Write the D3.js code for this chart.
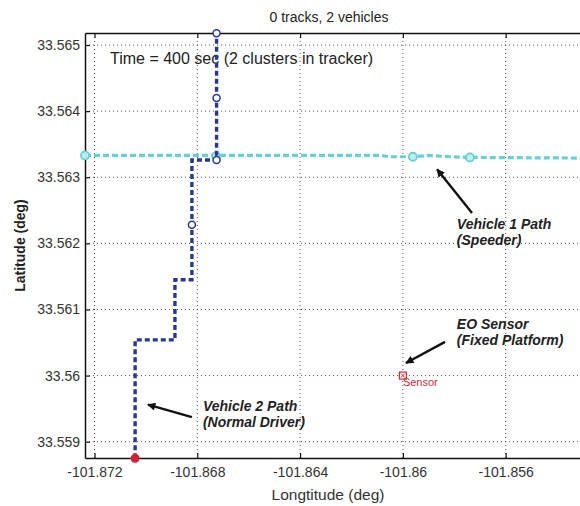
<!DOCTYPE html>
<html>
<head>
<meta charset="utf-8">
<script src="https://cdn.jsdelivr.net/npm/d3@7"></script>
<style>
  html, body { margin: 0; padding: 0; background: #fff; }
  svg { display: block; font-family: "Liberation Sans", Arial, sans-serif; }
</style>
</head>
<body>
<svg id="chart" width="580" height="506"></svg>
<script>
// Axis ticks and labels
const lonTicks = [-101.872, -101.868, -101.864, -101.86, -101.856];
const lonTickLabels = ["-101.872", "-101.868", "-101.864", "-101.86", "-101.856"];
const latTicks = [33.559, 33.56, 33.561, 33.562, 33.563, 33.564, 33.565];
const latTickLabels = ["33.559", "33.56", "33.561", "33.562", "33.563", "33.564", "33.565"];

// Vehicle 1 (speeder) track
const v1Lon = [-101.87237, -101.86089, -101.86050, -101.85961, -101.85902, -101.85817, -101.85739, -101.85303];
const v1Lat = [33.56333, 33.56333, 33.56331, 33.56331, 33.56333, 33.56331, 33.56330, 33.56329];
const v1MarkLon = [-101.87237, -101.86727, -101.85961, -101.85739];
const v1MarkLat = [33.56333, 33.56332, 33.56331, 33.56330];

// Vehicle 2 (normal driver) track
const v2Lon = [-101.87042, -101.87042, -101.86887, -101.86887, -101.86821, -101.86821, -101.86725, -101.86725];
const v2Lat = [33.55875, 33.56054, 33.56054, 33.56145, 33.56145, 33.56326, 33.56326, 33.56518];
const v2MarkLon = [-101.86821, -101.86725, -101.86725, -101.86725];
const v2MarkLat = [33.56228, 33.56326, 33.56420, 33.56518];

// Fixed EO sensor
const sensorLon = -101.86;
const sensorLat = 33.56;

// Callouts: text anchor, arrow tail and arrow tip (lon/lat)
const callouts = [
  { lines: ["Vehicle 1 Path", "(Speeder)"], tLon: -101.8579, tLat: 33.56222,
    fromLon: -101.85731, fromLat: 33.56246, toLon: -101.85867, toLat: 33.56312 },
  { lines: ["EO Sensor", "(Fixed Platform)"], tLon: -101.8579, tLat: 33.56071,
    fromLon: -101.85836, fromLat: 33.56051, toLon: -101.85988, toLat: 33.56019 },
  { lines: ["Vehicle 2 Path", "(Normal Driver)"], tLon: -101.86778, tLat: 33.55947,
    fromLon: -101.86821, fromLat: 33.55937, toLon: -101.86992, toLat: 33.55956 }
];

const svg = d3.select("#chart");
const L = 85, T = 33, R = 582, B = 458;

const x = d3.scaleLinear().domain([-101.87237, -101.85303]).range([L, R]);
const y = d3.scaleLinear().domain([33.558753, 33.565182]).range([B, T]);

// Title and in-plot status text
svg.append("text").attr("x", 329).attr("y", 22).attr("text-anchor", "middle")
  .attr("font-size", 14).attr("fill", "#222").text("0 tracks, 2 vehicles");

// Dotted grid
const grid = svg.append("g").attr("stroke", "#555").attr("stroke-width", 1)
  .attr("stroke-dasharray", "1,3");
grid.selectAll("line.gx").data(lonTicks).join("line").attr("class", "gx")
  .attr("x1", d => x(d)).attr("x2", d => x(d)).attr("y1", T).attr("y2", B);
grid.selectAll("line.gy").data(latTicks).join("line").attr("class", "gy")
  .attr("y1", d => y(d)).attr("y2", d => y(d)).attr("x1", L).attr("x2", R);

svg.append("text").attr("x", 110).attr("y", 64).attr("font-size", 16)
  .attr("fill", "#222").text("Time = 400 sec (2 clusters in tracker)");

// Axes with inward ticks
const fmtLon = d => lonTickLabels[lonTicks.indexOf(d)];
const fmtLat = d => latTickLabels[latTicks.indexOf(d)];

const gB = svg.append("g").attr("transform", `translate(0,${B})`)
  .call(d3.axisBottom(x).tickValues(lonTicks).tickFormat(fmtLon)
    .tickSizeInner(-5).tickSizeOuter(0).tickPadding(9));
const gT = svg.append("g").attr("transform", `translate(0,${T})`)
  .call(d3.axisTop(x).tickValues(lonTicks).tickFormat("")
    .tickSizeInner(-5).tickSizeOuter(0));
const gL = svg.append("g").attr("transform", `translate(${L},0)`)
  .call(d3.axisLeft(y).tickValues(latTicks).tickFormat(fmtLat)
    .tickSizeInner(-5).tickSizeOuter(0).tickPadding(5));
[gB, gT, gL].forEach(g => {
  g.select(".domain").attr("stroke", "#111").attr("stroke-width", 1.5);
  g.selectAll(".tick line").attr("stroke", "#111").attr("stroke-width", 1.2);
  g.selectAll(".tick text").attr("font-size", 14).attr("fill", "#333")
    .attr("font-family", "Liberation Sans, Arial, sans-serif");
});

svg.append("text").attr("x", 328).attr("y", 500).attr("text-anchor", "middle")
  .attr("font-size", 15.5).attr("fill", "#333").text("Longtitude (deg)");
svg.append("text").attr("transform", `translate(25,${(T + B) / 2}) rotate(-90)`)
  .attr("text-anchor", "middle").attr("font-size", 14).attr("font-weight", "bold")
  .attr("fill", "#222").text("Latitude (deg)");

// Vehicle tracks
const line = d3.line().x(d => x(d[0])).y(d => y(d[1]));

svg.append("path").datum(v1Lon.map((d, i) => [d, v1Lat[i]]))
  .attr("d", line).attr("fill", "none").attr("stroke", "#68cfd2")
  .attr("stroke-width", 3.2).attr("stroke-dasharray", "6,3");
svg.selectAll("circle.v1").data(v1MarkLon).join("circle").attr("class", "v1")
  .attr("cx", d => x(d)).attr("cy", (d, i) => y(v1MarkLat[i])).attr("r", 4)
  .attr("fill", "#bfeeee").attr("stroke", "#68cfd2").attr("stroke-width", 1.8);

svg.append("path").datum(v2Lon.map((d, i) => [d, v2Lat[i]]))
  .attr("d", line).attr("fill", "none").attr("stroke", "#2a3790")
  .attr("stroke-width", 3.4).attr("stroke-dasharray", "5,3");
svg.selectAll("circle.v2").data(v2MarkLon).join("circle").attr("class", "v2")
  .attr("cx", d => x(d)).attr("cy", (d, i) => y(v2MarkLat[i])).attr("r", 3.5)
  .attr("fill", "#fff").attr("stroke", "#2a3790").attr("stroke-width", 1.5);

// Current position of vehicle 2
svg.append("circle").attr("cx", x(v2Lon[0])).attr("cy", y(v2Lat[0])).attr("r", 4.5)
  .attr("fill", "#d42035");

// Sensor marker
const sx = x(sensorLon), sy = y(sensorLat);
svg.append("rect").attr("x", sx - 3.5).attr("y", sy - 3.5).attr("width", 7).attr("height", 7)
  .attr("fill", "#fff").attr("stroke", "#cc2a3a").attr("stroke-width", 1.2);
svg.append("path").attr("d", `M${sx - 2},${sy - 2}L${sx + 2},${sy + 2}M${sx + 2},${sy - 2}L${sx - 2},${sy + 2}`)
  .attr("stroke", "#cc2a3a").attr("stroke-width", 1);
svg.append("text").attr("x", sx).attr("y", sy + 10).attr("font-size", 11)
  .attr("fill", "#cc2a3a").text("Sensor");

// Callout arrows and labels
const defs = svg.append("defs");
defs.append("marker").attr("id", "head").attr("viewBox", "0 0 10 10")
  .attr("refX", 9).attr("refY", 5).attr("markerWidth", 4.2).attr("markerHeight", 3.4)
  .attr("markerUnits", "strokeWidth").attr("orient", "auto")
  .append("path").attr("d", "M0,0L10,5L0,10Z").attr("fill", "#111");

callouts.forEach(c => {
  svg.append("line").attr("x1", x(c.fromLon)).attr("y1", y(c.fromLat))
    .attr("x2", x(c.toLon)).attr("y2", y(c.toLat))
    .attr("stroke", "#111").attr("stroke-width", 2.4).attr("marker-end", "url(#head)");
  const t = svg.append("text").attr("x", x(c.tLon)).attr("y", y(c.tLat))
    .attr("font-size", 14).attr("font-weight", "bold").attr("font-style", "italic")
    .attr("fill", "#222");
  c.lines.forEach((s, i) => t.append("tspan").attr("x", x(c.tLon)).attr("dy", i ? 16 : 0).text(s));
});
</script>
</body>
</html>
